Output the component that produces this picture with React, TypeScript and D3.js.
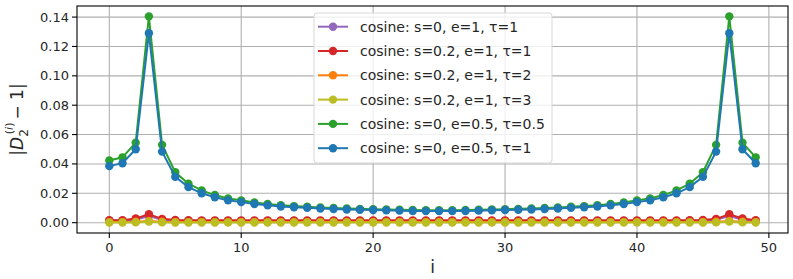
import React, { useEffect, useRef } from 'react';
import * as d3 from 'd3';

// index i = 0..49
const idx: number[] = d3.range(0, 50);

const purpleVals = [
  0.0015, 0.0014, 0.0020, 0.0045, 0.0020, 0.0014, 0.0013, 0.0012, 0.0012, 0.0011,
  0.0011, 0.0011, 0.0011, 0.0011, 0.0011, 0.0011, 0.0011, 0.0011, 0.0011, 0.0011,
  0.0011, 0.0011, 0.0011, 0.0011, 0.0011, 0.0011, 0.0011, 0.0011, 0.0011, 0.0011,
  0.0011, 0.0011, 0.0011, 0.0011, 0.0011, 0.0011, 0.0011, 0.0011, 0.0011, 0.0011,
  0.0011, 0.0011, 0.0012, 0.0012, 0.0013, 0.0014, 0.0020, 0.0045, 0.0020, 0.0014,
];
const redVals = [
  0.0017, 0.0017, 0.0028, 0.0057, 0.0026, 0.0018, 0.0017, 0.0016, 0.0016, 0.0016,
  0.0016, 0.0016, 0.0016, 0.0016, 0.0016, 0.0016, 0.0016, 0.0016, 0.0016, 0.0016,
  0.0016, 0.0016, 0.0016, 0.0016, 0.0016, 0.0016, 0.0016, 0.0016, 0.0016, 0.0016,
  0.0016, 0.0016, 0.0016, 0.0016, 0.0016, 0.0016, 0.0016, 0.0016, 0.0016, 0.0016,
  0.0016, 0.0016, 0.0016, 0.0016, 0.0017, 0.0018, 0.0026, 0.0057, 0.0028, 0.0017,
];
const orangeVals = [
  0.0004, 0.0004, 0.0006, 0.0012, 0.0006, 0.0004, 0.0004, 0.0004, 0.0004, 0.0004,
  0.0004, 0.0004, 0.0004, 0.0004, 0.0004, 0.0004, 0.0004, 0.0004, 0.0004, 0.0004,
  0.0004, 0.0004, 0.0004, 0.0004, 0.0004, 0.0004, 0.0004, 0.0004, 0.0004, 0.0004,
  0.0004, 0.0004, 0.0004, 0.0004, 0.0004, 0.0004, 0.0004, 0.0004, 0.0004, 0.0004,
  0.0004, 0.0004, 0.0004, 0.0004, 0.0004, 0.0004, 0.0006, 0.0012, 0.0006, 0.0004,
];
const yellowVals = [
  0.0001, 0.0001, 0.0002, 0.0007, 0.0002, 0.0001, 0.0001, 0.0001, 0.0001, 0.0001,
  0.0001, 0.0001, 0.0001, 0.0001, 0.0001, 0.0001, 0.0001, 0.0001, 0.0001, 0.0001,
  0.0001, 0.0001, 0.0001, 0.0001, 0.0001, 0.0001, 0.0001, 0.0001, 0.0001, 0.0001,
  0.0001, 0.0001, 0.0001, 0.0001, 0.0001, 0.0001, 0.0001, 0.0001, 0.0001, 0.0001,
  0.0001, 0.0001, 0.0001, 0.0001, 0.0001, 0.0001, 0.0002, 0.0007, 0.0002, 0.0001,
];
const greenVals = [
  0.0423, 0.0445, 0.0545, 0.1405, 0.0530, 0.0343, 0.0265, 0.0220, 0.0188, 0.0165,
  0.0152, 0.0138, 0.0128, 0.0119, 0.0113, 0.0108, 0.0104, 0.0100, 0.0097, 0.0094,
  0.0092, 0.0090, 0.0088, 0.0086, 0.0085, 0.0085, 0.0085, 0.0086, 0.0088, 0.0090,
  0.0092, 0.0094, 0.0097, 0.0100, 0.0104, 0.0108, 0.0113, 0.0119, 0.0128, 0.0138,
  0.0152, 0.0165, 0.0188, 0.0220, 0.0265, 0.0343, 0.0530, 0.1405, 0.0545, 0.0445,
];
const blueVals = [
  0.0385, 0.0405, 0.0500, 0.1290, 0.0484, 0.0312, 0.0242, 0.0200, 0.0173, 0.0152,
  0.0140, 0.0127, 0.0118, 0.0110, 0.0105, 0.0101, 0.0097, 0.0093, 0.0090, 0.0088,
  0.0086, 0.0084, 0.0082, 0.0080, 0.0079, 0.0079, 0.0079, 0.0080, 0.0082, 0.0084,
  0.0086, 0.0088, 0.0090, 0.0093, 0.0097, 0.0101, 0.0105, 0.0110, 0.0118, 0.0127,
  0.0140, 0.0152, 0.0173, 0.0200, 0.0242, 0.0312, 0.0484, 0.1290, 0.0500, 0.0405,
];

const seriesLabels = [
  'cosine: s=0, e=1, τ=1',
  'cosine: s=0.2, e=1, τ=1',
  'cosine: s=0.2, e=1, τ=2',
  'cosine: s=0.2, e=1, τ=3',
  'cosine: s=0, e=0.5, τ=0.5',
  'cosine: s=0, e=0.5, τ=1',
];
const seriesColors = ['#9467bd', '#d62728', '#ff7f0e', '#bcbd22', '#2ca02c', '#1f77b4'];
const seriesValues = [purpleVals, redVals, orangeVals, yellowVals, greenVals, blueVals];

const xTicks = [0, 10, 20, 30, 40, 50];
const yTicks = [0, 0.02, 0.04, 0.06, 0.08, 0.1, 0.12, 0.14];

const W = 793;
const H = 279;

export default function App() {
  const ref = useRef<SVGSVGElement>(null);

  useEffect(() => {
    if (!ref.current) return;
    document.body.style.margin = '0';
    const svg = d3.select(ref.current);
    svg.selectAll('*').remove();

    const plot = { left: 77, right: 788, top: 6, bottom: 233 };
    const font = 'DejaVu Sans, sans-serif';

    const x = d3.scaleLinear().domain([-2.45, 51.45]).range([plot.left, plot.right]);
    const y = d3.scaleLinear().domain([-0.00703, 0.14755]).range([plot.bottom, plot.top]);

    svg.append('rect').attr('width', W).attr('height', H).attr('fill', '#fff');

    // grid
    const grid = svg.append('g');
    xTicks.forEach(t => {
      grid.append('line')
        .attr('x1', x(t)).attr('x2', x(t)).attr('y1', plot.top).attr('y2', plot.bottom)
        .attr('stroke', '#b0b0b0').attr('stroke-width', 1.1);
    });
    yTicks.forEach(t => {
      grid.append('line')
        .attr('x1', plot.left).attr('x2', plot.right).attr('y1', y(t)).attr('y2', y(t))
        .attr('stroke', '#b0b0b0').attr('stroke-width', 1.1);
    });

    // series
    const line = d3.line<number>()
      .x((_, i) => x(idx[i]))
      .y(d => y(d));

    const lines = svg.append('g');
    seriesValues.forEach((vals, s) => {
      const g = lines.append('g');
      g.append('path').datum(vals)
        .attr('fill', 'none').attr('stroke', seriesColors[s]).attr('stroke-width', 2)
        .attr('d', line);
      g.selectAll('circle').data(vals).enter().append('circle')
        .attr('cx', (_, i) => x(idx[i])).attr('cy', d => y(d))
        .attr('r', 4.2).attr('fill', seriesColors[s]);
    });

    // spines
    svg.append('rect')
      .attr('x', plot.left).attr('y', plot.top)
      .attr('width', plot.right - plot.left).attr('height', plot.bottom - plot.top)
      .attr('fill', 'none').attr('stroke', '#000').attr('stroke-width', 1.1);

    // x axis ticks
    xTicks.forEach(t => {
      svg.append('line')
        .attr('x1', x(t)).attr('x2', x(t)).attr('y1', plot.bottom).attr('y2', plot.bottom + 5)
        .attr('stroke', '#000').attr('stroke-width', 1.1);
      svg.append('text')
        .attr('x', x(t)).attr('y', plot.bottom + 19)
        .attr('text-anchor', 'middle').attr('font-family', font).attr('font-size', 13)
        .attr('fill', '#262626')
        .text(d3.format('d')(t));
    });
    yTicks.forEach(t => {
      svg.append('line')
        .attr('x1', plot.left - 5).attr('x2', plot.left).attr('y1', y(t)).attr('y2', y(t))
        .attr('stroke', '#000').attr('stroke-width', 1.1);
      svg.append('text')
        .attr('x', plot.left - 8).attr('y', y(t)).attr('dy', '0.35em')
        .attr('text-anchor', 'end').attr('font-family', font).attr('font-size', 13)
        .attr('fill', '#262626')
        .text(d3.format('.2f')(t));
    });

    // axis labels
    svg.append('text')
      .attr('x', (plot.left + plot.right) / 2).attr('y', 273)
      .attr('text-anchor', 'middle').attr('font-family', font).attr('font-size', 17)
      .attr('fill', '#262626')
      .text('i');

    const yl = svg.append('text')
      .attr('transform', `translate(23,${(plot.top + plot.bottom) / 2}) rotate(-90)`)
      .attr('text-anchor', 'middle').attr('font-family', font).attr('font-size', 17)
      .attr('fill', '#262626');
    yl.append('tspan').text('|');
    yl.append('tspan').attr('font-style', 'italic').text('D');
    yl.append('tspan').attr('font-size', 12).attr('dy', 5).text('2');
    yl.append('tspan').attr('font-size', 11).attr('dx', -5).attr('dy', -15).text('(');
    yl.append('tspan').attr('font-size', 11).attr('font-style', 'italic').text('i');
    yl.append('tspan').attr('font-size', 11).text(')');
    yl.append('tspan').attr('dy', 10).attr('dx', 3).text('− 1|');

    // legend
    const lg = svg.append('g');
    const lx = 314, ly = 13, lw = 238, lh = 150;
    lg.append('rect')
      .attr('x', lx).attr('y', ly).attr('width', lw).attr('height', lh)
      .attr('rx', 3).attr('fill', 'rgba(255,255,255,0.8)')
      .attr('stroke', '#d8d8d8').attr('stroke-width', 1);
    seriesLabels.forEach((lab, s) => {
      const cy = 26.7 + s * 24.3;
      lg.append('line')
        .attr('x1', 318).attr('x2', 348).attr('y1', cy).attr('y2', cy)
        .attr('stroke', seriesColors[s]).attr('stroke-width', 2);
      lg.append('circle').attr('cx', 333).attr('cy', cy).attr('r', 4.2).attr('fill', seriesColors[s]);
      lg.append('text')
        .attr('x', 360).attr('y', cy).attr('dy', '0.35em')
        .attr('font-family', font).attr('font-size', 14).attr('fill', '#262626')
        .text(lab);
    });
  }, []);

  return (
    <div style={{ position: 'absolute', left: 0, top: 0 }}>
      <svg ref={ref} width={W} height={H} />
    </div>
  );
}
